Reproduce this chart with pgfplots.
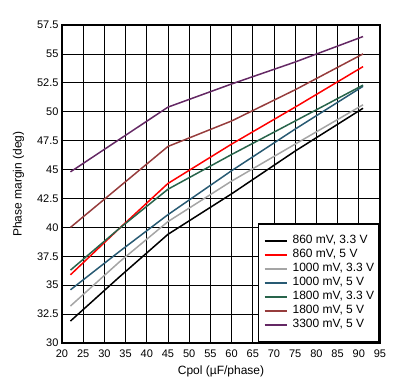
\documentclass[border=0pt]{standalone}
\usepackage{fontspec}
\setmainfont{Liberation Sans}
\usepackage{pgfplots}
\pgfplotsset{compat=1.18}
\definecolor{cgrey}{RGB}{165,165,165}
\definecolor{cteal}{RGB}{40,90,115}
\definecolor{cgreen}{RGB}{40,100,75}
\definecolor{cbrown}{RGB}{150,60,60}
\definecolor{cpurple}{RGB}{100,40,100}
\begin{document}
\begin{tikzpicture}
\useasboundingbox (-62bp,-48bp) rectangle (341bp,343bp);
\begin{axis}[
  at={(0,0)}, anchor=south west,
  scale only axis,
  width=318bp, height=318bp,
  xmin=20, xmax=95, ymin=30, ymax=57.5,
  xtick={20,25,...,95},
  ytick={30,32.5,...,57.5},
  yticklabel style={/pgf/number format/fixed,/pgf/number format/precision=1},
  xticklabel style={yshift=-3bp},
  /pgf/number format/assume math mode=true,
  grid=major,
  grid style={black, line width=0.8pt},
  axis line style={line width=2.2pt},
  tick style={draw=none},
  xlabel={Cpol (µF/phase)},
  ylabel={Phase margin (deg)},
  xlabel style={yshift=-2bp},
  ylabel style={yshift=6bp},
  ticklabel style={font=\fontsize{11bp}{13bp}\selectfont},
  label style={font=\fontsize{12bp}{14bp}\selectfont},
  legend style={at={(1,0)}, anchor=south east, line width=1.6pt,
    font=\fontsize{12bp}{14bp}\selectfont, row sep=0pt, column sep=5bp,
    inner xsep=5bp, inner ysep=10bp,
    nodes={inner sep=0pt, text height=9bp, text depth=5bp}},
  legend cell align=left,
  legend image code/.code={\draw[#1, line width=2pt] (0bp,0bp) -- (22bp,0bp);},
  every axis plot/.append style={line width=1.5pt},
]
\addplot[black] coordinates {(22,31.9) (33.5,35.7) (45,39.4) (60,42.9) (75,46.6) (91,50.3)};
\addlegendentry{860 mV, 3.3 V}
\addplot[red] coordinates {(22,35.9) (33.5,39.9) (45,43.8) (60,47.2) (75,50.4) (91,53.9)};
\addlegendentry{860 mV, 5 V}
\addplot[cgrey] coordinates {(22,33.2) (33.5,37.0) (45,40.5) (60,44.0) (75,47.2) (91,50.6)};
\addlegendentry{1000 mV, 3.3 V}
\addplot[cteal] coordinates {(22,34.6) (33.5,37.9) (45,41.1) (60,44.9) (75,48.5) (91,52.2)};
\addlegendentry{1000 mV, 5 V}
\addplot[cgreen] coordinates {(22,36.3) (33.5,39.9) (45,43.3) (60,46.3) (75,49.2) (91,52.3)};
\addlegendentry{1800 mV, 3.3 V}
\addplot[cbrown] coordinates {(22,40.0) (33.5,43.5) (45,47.0) (60,49.2) (75,51.9) (91,55.0)};
\addlegendentry{1800 mV, 5 V}
\addplot[cpurple] coordinates {(22,44.8) (33.5,47.6) (45,50.4) (60,52.4) (75,54.3) (91,56.5)};
\addlegendentry{3300 mV, 5 V}
\end{axis}
\end{tikzpicture}
\end{document}
